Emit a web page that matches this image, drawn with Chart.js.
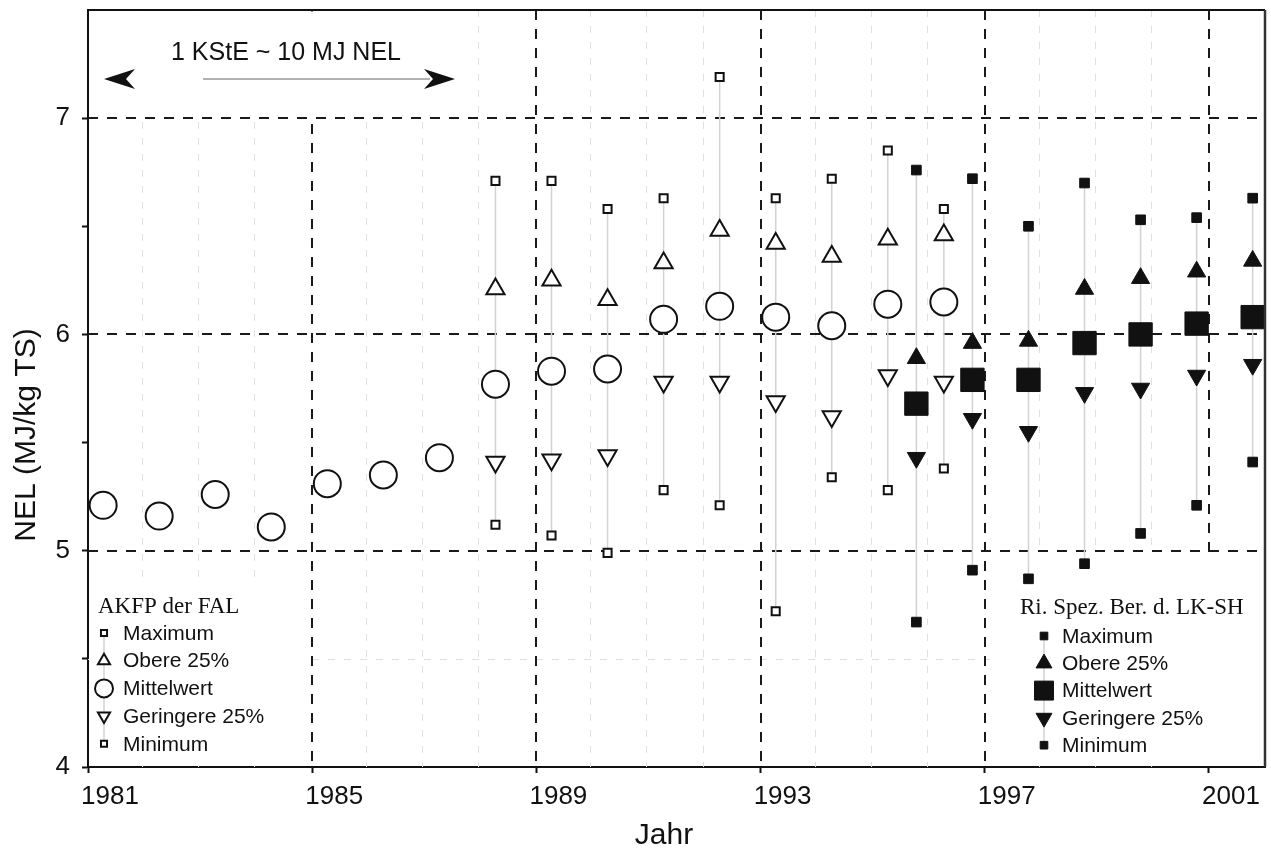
<!DOCTYPE html>
<html lang="de">
<head>
<meta charset="utf-8">
<title>NEL (MJ/kg TS) nach Jahr</title>
<script src="https://cdn.jsdelivr.net/npm/chart.js@4.4.1/dist/chart.umd.min.js"></script>
<style>
  html, body { margin: 0; padding: 0; background: #fff; }
  #wrap { width: 1271px; height: 852px; }
</style>
</head>
<body>
<div id="wrap"><canvas id="chart" width="1271" height="852"></canvas></div>
<script>
'use strict';

// ── Daten: AKFP der FAL ───────────────────────────────────────
const falJahre   = [1981, 1982, 1983, 1984, 1985, 1986, 1987, 1988, 1989, 1990, 1991, 1992, 1993, 1994, 1995, 1996];
const falMittel  = [5.21, 5.16, 5.26, 5.11, 5.31, 5.35, 5.43, 5.77, 5.83, 5.84, 6.07, 6.13, 6.08, 6.04, 6.14, 6.15];
const falSpanne  = [1988, 1989, 1990, 1991, 1992, 1993, 1994, 1995, 1996];
const falMax     = [6.71, 6.71, 6.58, 6.63, 7.19, 6.63, 6.72, 6.85, 6.58];
const falOben    = [6.21, 6.25, 6.16, 6.33, 6.48, 6.42, 6.36, 6.44, 6.46];
const falUnten   = [5.41, 5.42, 5.44, 5.78, 5.78, 5.69, 5.62, 5.81, 5.78];
const falMin     = [5.12, 5.07, 4.99, 5.28, 5.21, 4.72, 5.34, 5.28, 5.38];
const falVersatz = 0.27;   // Lage innerhalb des Jahres

// ── Daten: Ri. Spez. Ber. d. LK-SH ────────────────────────────
const lkJahre   = [1995, 1996, 1997, 1998, 1999, 2000, 2001];
const lkMax     = [6.76, 6.72, 6.50, 6.70, 6.53, 6.54, 6.63];
const lkOben    = [5.89, 5.96, 5.97, 6.21, 6.26, 6.29, 6.34];
const lkMittel  = [5.68, 5.79, 5.79, 5.96, 6.00, 6.05, 6.08];
const lkUnten   = [5.43, 5.61, 5.55, 5.73, 5.75, 5.81, 5.86];
const lkMin     = [4.67, 4.91, 4.87, 4.94, 5.08, 5.21, 5.41];
const lkVersatz = 0.78;

// ── Achsen & Texte ────────────────────────────────────────────
const xTickJahre    = [1981, 1985, 1989, 1993, 1997, 2001];
const yTickWerte    = [4, 4.5, 5, 5.5, 6, 6.5, 7];
const hauptGitterX  = [1985, 1989, 1993, 1997, 2001];
const hauptGitterY  = [5, 6, 7];
const nebenGitterX  = [1982, 1983, 1984, 1986, 1987, 1988, 1990, 1991, 1992, 1994, 1995, 1996, 1998, 1999, 2000];
const nebenGitterY  = [4.5];
const xTitel        = 'Jahr';
const yTitel        = 'NEL (MJ/kg TS)';
const eintraege     = ['Maximum', 'Obere 25%', 'Mittelwert', 'Geringere 25%', 'Minimum'];
const falTitel      = 'AKFP der FAL';
const lkTitel       = 'Ri. Spez. Ber. d. LK-SH';
const anmerkung     = '1 KStE ~ 10 MJ NEL';

// ── Stil ──────────────────────────────────────────────────────
const SANS  = "'Liberation Sans', Arial, Helvetica, sans-serif";
const SERIF = "'Liberation Serif', 'Times New Roman', Times, serif";
const INK   = '#111';
const WHISKER = '#d2d2d2';

// weiße Flächen hinter Legenden / Anmerkung (in Achsenwerten)
const abdeckungen = [
  { x0: 1981,   x1: 1987.65, y0: 7.015, y1: 7.5 },
  { x0: 1981,   x1: 1984.85, y0: 4,     y1: 4.86 },
  { x0: 1997.1, x1: 2002,    y0: 4,     y1: 4.985 },
];

// ── Helpers ───────────────────────────────────────────────────
function punkte(jahre, versatz, werte) {
  return jahre.map((j, i) => ({ x: j + versatz, y: werte[i] }));
}

function spannen(jahre, versatz, unten, oben) {
  const pts = [];
  jahre.forEach((j, i) => {
    pts.push({ x: j + versatz, y: unten[i] }, { x: j + versatz, y: oben[i] }, { x: j + versatz, y: null });
  });
  return pts;
}

function marker(label, data, style, radius, rotation, fill, border) {
  return {
    label, data, type: 'scatter', order: 0, clip: false,
    pointStyle: style, pointRadius: radius, pointHoverRadius: radius, pointRotation: rotation,
    pointBackgroundColor: fill, pointBorderColor: INK, pointBorderWidth: border,
  };
}

function linie(label, data) {
  return {
    label, data, type: 'line', order: 5, clip: false,
    borderColor: WHISKER, borderWidth: 1.5, pointRadius: 0, spanGaps: false,
  };
}

// Legendenmarker (offen / gefüllt)
const falStile = [
  { pointStyle: 'rect',     radius: 4.3, rotation: 0 },
  { pointStyle: 'triangle', radius: 7,   rotation: 0 },
  { pointStyle: 'circle',   radius: 9,   rotation: 0 },
  { pointStyle: 'triangle', radius: 7,   rotation: 180 },
  { pointStyle: 'rect',     radius: 4.3, rotation: 0 },
];
const lkStile = [
  { pointStyle: 'rect',     radius: 5.4, rotation: 0 },
  { pointStyle: 'triangle', radius: 9.2, rotation: 0 },
  { pointStyle: 'rect',     radius: 13.4, rotation: 0 },
  { pointStyle: 'triangle', radius: 9.2, rotation: 180 },
  { pointStyle: 'rect',     radius: 5.4, rotation: 0 },
];

// ── Plugins ───────────────────────────────────────────────────
const rasterPlugin = {
  id: 'raster',
  beforeDatasetsDraw(chart) {
    const { ctx, chartArea: a, scales: { x, y } } = chart;
    const strich = (x1, y1, x2, y2) => { ctx.beginPath(); ctx.moveTo(x1, y1); ctx.lineTo(x2, y2); ctx.stroke(); };
    ctx.save();

    ctx.lineWidth = 1;
    ctx.strokeStyle = '#e0e0e0';
    ctx.setLineDash([7, 9]);
    nebenGitterX.forEach((v) => { const px = Math.round(x.getPixelForValue(v)) - 1.5; strich(px, a.top, px, a.bottom); });
    nebenGitterY.forEach((v) => { const py = Math.round(y.getPixelForValue(v)) + 0.5; strich(a.left, py, a.right, py); });

    ctx.lineWidth = 2;
    ctx.strokeStyle = '#1a1a1a';
    ctx.setLineDash([10, 9]);
    hauptGitterX.forEach((v) => { const px = Math.round(x.getPixelForValue(v)); strich(px, a.top, px, a.bottom); });
    hauptGitterY.forEach((v) => { const py = Math.round(y.getPixelForValue(v)); strich(a.left, py, a.right, py); });

    ctx.setLineDash([]);
    ctx.fillStyle = '#fff';
    abdeckungen.forEach((b) => {
      const x1 = Math.max(x.getPixelForValue(b.x0), a.left + 1.5);
      const x2 = Math.min(x.getPixelForValue(b.x1), a.right - 1.5);
      const y1 = Math.max(y.getPixelForValue(b.y1), a.top + 1.5);
      const y2 = Math.min(y.getPixelForValue(b.y0), a.bottom - 1.5);
      ctx.fillRect(x1, y1, x2 - x1, y2 - y1);
    });
    ctx.restore();
  },
};

function legendBlock(ctx, pos, titel, stile, fill, border) {
  ctx.font = `23px ${SERIF}`;
  ctx.fillStyle = INK;
  ctx.textAlign = 'left';
  ctx.textBaseline = 'middle';
  ctx.fillText(titel, pos.titelX, pos.titelY);

  const lastY = pos.zeileY + pos.schritt * (eintraege.length - 1);
  ctx.strokeStyle = WHISKER;
  ctx.lineWidth = 1.5;
  ctx.beginPath();
  ctx.moveTo(pos.markerX, pos.zeileY);
  ctx.lineTo(pos.markerX, lastY);
  ctx.stroke();

  eintraege.forEach((txt, i) => {
    const yy = pos.zeileY + pos.schritt * i;
    const st = stile[i];
    ctx.fillStyle = fill;
    ctx.strokeStyle = INK;
    ctx.lineWidth = border;
    Chart.helpers.drawPoint(ctx, { ...st, borderWidth: border }, pos.markerX, yy);
    ctx.fillStyle = INK;
    ctx.font = `21px ${SANS}`;
    ctx.fillText(txt, pos.textX, yy + 1);
  });
}

const legendePlugin = {
  id: 'legende',
  afterDatasetsDraw(chart) {
    const { ctx, chartArea: a } = chart;
    ctx.save();

    // Rahmen oben / rechts
    ctx.strokeStyle = INK;
    ctx.lineWidth = 2;
    ctx.beginPath();
    ctx.moveTo(a.left, a.top);
    ctx.lineTo(a.right, a.top);
    ctx.stroke();
    ctx.strokeStyle = '#333';
    ctx.lineWidth = 2.5;
    ctx.beginPath();
    ctx.moveTo(a.right, a.top);
    ctx.lineTo(a.right, a.bottom);
    ctx.stroke();

    // Anmerkung mit Pfeil
    ctx.fillStyle = INK;
    ctx.font = `25px ${SANS}`;
    ctx.textAlign = 'center';
    ctx.textBaseline = 'middle';
    ctx.fillText(anmerkung, a.left + 198, a.top + 43);

    const py = a.top + 69;
    ctx.strokeStyle = '#999';
    ctx.lineWidth = 1.5;
    ctx.beginPath();
    ctx.moveTo(a.left + 115, py);
    ctx.lineTo(a.left + 342, py);
    ctx.stroke();
    const spitze = (tip, dir) => {
      ctx.beginPath();
      ctx.moveTo(tip, py);
      ctx.lineTo(tip + dir * 31, py - 10);
      ctx.lineTo(tip + dir * 22, py);
      ctx.lineTo(tip + dir * 31, py + 10);
      ctx.closePath();
      ctx.fill();
    };
    ctx.fillStyle = INK;
    spitze(a.left + 16, 1);
    spitze(a.left + 367, -1);

    legendBlock(ctx, {
      titelX: a.left + 10, titelY: a.bottom - 160,
      markerX: a.left + 16, textX: a.left + 35,
      zeileY: a.bottom - 134, schritt: 27.7,
    }, falTitel, falStile, '#fff', 2);

    legendBlock(ctx, {
      titelX: a.right - 245, titelY: a.bottom - 159,
      markerX: a.right - 221, textX: a.right - 203,
      zeileY: a.bottom - 131, schritt: 27.3,
    }, lkTitel, lkStile, INK, 1);

    ctx.restore();
  },
  afterDraw(chart) {
    // Achsentitel
    const { ctx, chartArea: a } = chart;
    ctx.save();
    ctx.fillStyle = INK;
    ctx.font = `30px ${SANS}`;
    ctx.textAlign = 'center';
    ctx.textBaseline = 'middle';
    ctx.fillText(xTitel, a.left + 576, a.bottom + 69);
    ctx.translate(27, a.top + 425);
    ctx.rotate(-Math.PI / 2);
    ctx.fillText(yTitel, 0, 0);
    ctx.restore();
  },
};

// ── Chart ─────────────────────────────────────────────────────
const datasets = [
  marker('FAL Maximum',       punkte(falSpanne, falVersatz, falMax),   'rect',     5.7,  0,   '#fff', 2),
  marker('FAL Obere 25%',     punkte(falSpanne, falVersatz, falOben),  'triangle', 10.5, 0,   '#fff', 2),
  marker('FAL Mittelwert',    punkte(falJahre,  falVersatz, falMittel),'circle',   13.5, 0,   '#fff', 2),
  marker('FAL Geringere 25%', punkte(falSpanne, falVersatz, falUnten), 'triangle', 10.5, 180, '#fff', 2),
  marker('FAL Minimum',       punkte(falSpanne, falVersatz, falMin),   'rect',     5.7,  0,   '#fff', 2),
  marker('LK Maximum',        punkte(lkJahre, lkVersatz, lkMax),       'rect',     6.8,  0,   INK, 1),
  marker('LK Obere 25%',      punkte(lkJahre, lkVersatz, lkOben),      'triangle', 10.5, 0,   INK, 1),
  marker('LK Mittelwert',     punkte(lkJahre, lkVersatz, lkMittel),    'rect',     16.5, 0,   INK, 1),
  marker('LK Geringere 25%',  punkte(lkJahre, lkVersatz, lkUnten),     'triangle', 10.5, 180, INK, 1),
  marker('LK Minimum',        punkte(lkJahre, lkVersatz, lkMin),       'rect',     6.8,  0,   INK, 1),
  linie('FAL Spanne', spannen(falSpanne, falVersatz, falMin, falMax)),
  linie('LK Spanne',  spannen(lkJahre, lkVersatz, lkMin, lkMax)),
];

new Chart(document.getElementById('chart'), {
  type: 'scatter',
  data: { datasets },
  plugins: [rasterPlugin, legendePlugin],
  options: {
    responsive: false,
    animation: false,
    events: [],
    layout: { autoPadding: false, padding: { top: 10, right: 6, left: 0, bottom: 0 } },
    plugins: {
      legend: { display: false },
      tooltip: { enabled: false },
    },
    scales: {
      x: {
        type: 'linear',
        position: 'bottom',
        min: 1981,
        max: 2002,
        afterBuildTicks: (s) => { s.ticks = xTickJahre.map((v) => ({ value: v })); },
        afterFit: (s) => { s.height = 85; s.paddingLeft = 0; s.paddingRight = 0; },
        grid: { drawOnChartArea: false, drawTicks: true, tickLength: 6, tickWidth: 2, tickColor: INK },
        border: { display: true, color: INK, width: 2 },
        ticks: {
          font: { family: SANS, size: 26 },
          color: INK,
          padding: 8,
          labelOffset: 22,
          maxRotation: 0,
          autoSkip: false,
          callback: (v) => String(v),
        },
        title: { display: false },
      },
      y: {
        type: 'linear',
        position: 'left',
        min: 4,
        max: 7.5,
        afterBuildTicks: (s) => { s.ticks = yTickWerte.map((v) => ({ value: v })); },
        afterFit: (s) => { s.width = 88; s.paddingTop = 0; s.paddingBottom = 0; },
        grid: { drawOnChartArea: false, drawTicks: true, tickLength: 6, tickWidth: 2, tickColor: INK },
        border: { display: true, color: INK, width: 2 },
        ticks: {
          font: { family: SANS, size: 26 },
          color: INK,
          padding: 12,
          autoSkip: false,
          callback: (v) => (Number.isInteger(v) ? String(v) : ''),
        },
        title: { display: false },
      },
    },
  },
});
</script>
</body>
</html>
